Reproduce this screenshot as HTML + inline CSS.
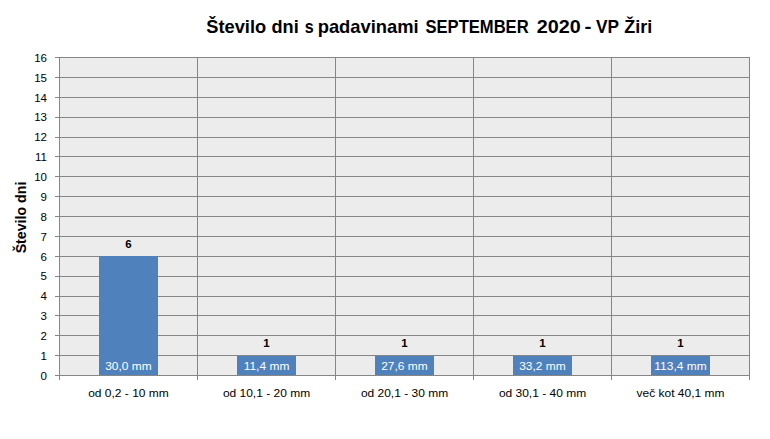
<!DOCTYPE html>
<html><head><meta charset="utf-8"><style>
html,body{margin:0;padding:0;background:#fff;}
body{width:770px;height:439px;overflow:hidden;position:relative;}
svg{position:absolute;left:0;top:0;}
text{font-family:"Liberation Sans",sans-serif;}
.v{font-size:11.5px;font-weight:bold;text-anchor:middle;fill:#000;}
.m{font-size:11px;text-anchor:middle;fill:#fff;}
.c{font-size:11px;text-anchor:middle;fill:#000;}
.y{font-size:11.5px;text-anchor:end;fill:#000;}
.t{font-size:18.2px;font-weight:bold;fill:#000;}
.a{font-size:14.2px;font-weight:bold;fill:#000;}
</style></head><body>
<svg width="770" height="439" viewBox="0 0 770 439" shape-rendering="crispEdges">
<rect x="59" y="57" width="690" height="318" fill="#ECECEC"/>
<rect x="55" y="375" width="695" height="1" fill="#868686"/>
<rect x="55" y="355" width="695" height="1" fill="#868686"/>
<rect x="55" y="335" width="695" height="1" fill="#868686"/>
<rect x="55" y="315" width="695" height="1" fill="#868686"/>
<rect x="55" y="296" width="695" height="1" fill="#868686"/>
<rect x="55" y="276" width="695" height="1" fill="#868686"/>
<rect x="55" y="256" width="695" height="1" fill="#868686"/>
<rect x="55" y="236" width="695" height="1" fill="#868686"/>
<rect x="55" y="216" width="695" height="1" fill="#868686"/>
<rect x="55" y="196" width="695" height="1" fill="#868686"/>
<rect x="55" y="176" width="695" height="1" fill="#868686"/>
<rect x="55" y="156" width="695" height="1" fill="#868686"/>
<rect x="55" y="137" width="695" height="1" fill="#868686"/>
<rect x="55" y="117" width="695" height="1" fill="#868686"/>
<rect x="55" y="97" width="695" height="1" fill="#868686"/>
<rect x="55" y="77" width="695" height="1" fill="#868686"/>
<rect x="55" y="57" width="695" height="1" fill="#868686"/>
<rect x="59" y="57" width="1" height="323" fill="#868686"/>
<rect x="197" y="57" width="1" height="323" fill="#868686"/>
<rect x="335" y="57" width="1" height="323" fill="#868686"/>
<rect x="473" y="57" width="1" height="323" fill="#868686"/>
<rect x="611" y="57" width="1" height="323" fill="#868686"/>
<rect x="749" y="57" width="1" height="323" fill="#868686"/>
<rect x="99" y="256" width="59" height="119" fill="#4F81BD"/>
<rect x="237" y="356" width="59" height="19" fill="#4F81BD"/>
<rect x="375" y="356" width="59" height="19" fill="#4F81BD"/>
<rect x="513" y="356" width="59" height="19" fill="#4F81BD"/>
<rect x="651" y="356" width="59" height="19" fill="#4F81BD"/>
<text x="128.5" y="247.5" class="v">6</text>
<text transform="translate(128.5,370) scale(1.09,1)" class="m">30,0 mm</text>
<text transform="translate(128.5,397) scale(1.09,1)" class="c">od 0,2 - 10 mm</text>
<text x="266.5" y="346.5" class="v">1</text>
<text transform="translate(266.5,370) scale(1.09,1)" class="m">11,4 mm</text>
<text transform="translate(266.5,397) scale(1.09,1)" class="c">od 10,1 - 20 mm</text>
<text x="404.5" y="346.5" class="v">1</text>
<text transform="translate(404.5,370) scale(1.09,1)" class="m">27,6 mm</text>
<text transform="translate(404.5,397) scale(1.09,1)" class="c">od 20,1 - 30 mm</text>
<text x="542.5" y="346.5" class="v">1</text>
<text transform="translate(542.5,370) scale(1.09,1)" class="m">33,2 mm</text>
<text transform="translate(542.5,397) scale(1.09,1)" class="c">od 30,1 - 40 mm</text>
<text x="680.5" y="346.5" class="v">1</text>
<text transform="translate(680.5,370) scale(1.09,1)" class="m">113,4 mm</text>
<text transform="translate(680.5,397) scale(1.09,1)" class="c">več kot 40,1 mm</text>
<text x="47" y="380" class="y">0</text>
<text x="47" y="360" class="y">1</text>
<text x="47" y="340" class="y">2</text>
<text x="47" y="320" class="y">3</text>
<text x="47" y="300" class="y">4</text>
<text x="47" y="280" class="y">5</text>
<text x="47" y="261" class="y">6</text>
<text x="47" y="241" class="y">7</text>
<text x="47" y="221" class="y">8</text>
<text x="47" y="201" class="y">9</text>
<text x="47" y="181" class="y">10</text>
<text x="47" y="161" class="y">11</text>
<text x="47" y="141" class="y">12</text>
<text x="47" y="121" class="y">13</text>
<text x="47" y="102" class="y">14</text>
<text x="47" y="82" class="y">15</text>
<text x="47" y="62" class="y">16</text>
<text x="206.3" y="32.5" class="t" textLength="59.87" lengthAdjust="spacingAndGlyphs">Število</text><text x="271.5" y="32.5" class="t" textLength="27.23" lengthAdjust="spacingAndGlyphs">dni</text><text x="304.7" y="32.5" class="t" textLength="8.95" lengthAdjust="spacingAndGlyphs">s</text><text x="317.7" y="32.5" class="t" textLength="101.02" lengthAdjust="spacingAndGlyphs">padavinami</text><text x="425.5" y="32.5" class="t" textLength="103.15" lengthAdjust="spacingAndGlyphs">SEPTEMBER</text><text x="536.7" y="32.5" class="t" textLength="43.93" lengthAdjust="spacingAndGlyphs">2020</text><text x="584.5" y="32.5" class="t" textLength="6.96" lengthAdjust="spacingAndGlyphs">-</text><text x="596" y="32.5" class="t" textLength="23.01" lengthAdjust="spacingAndGlyphs">VP</text><text x="624.2" y="32.5" class="t" textLength="28.0" lengthAdjust="spacingAndGlyphs">Žiri</text>
<text transform="translate(25.5,217.5) rotate(-90)" class="a" text-anchor="middle">Število dni</text>
</svg>
</body></html>
